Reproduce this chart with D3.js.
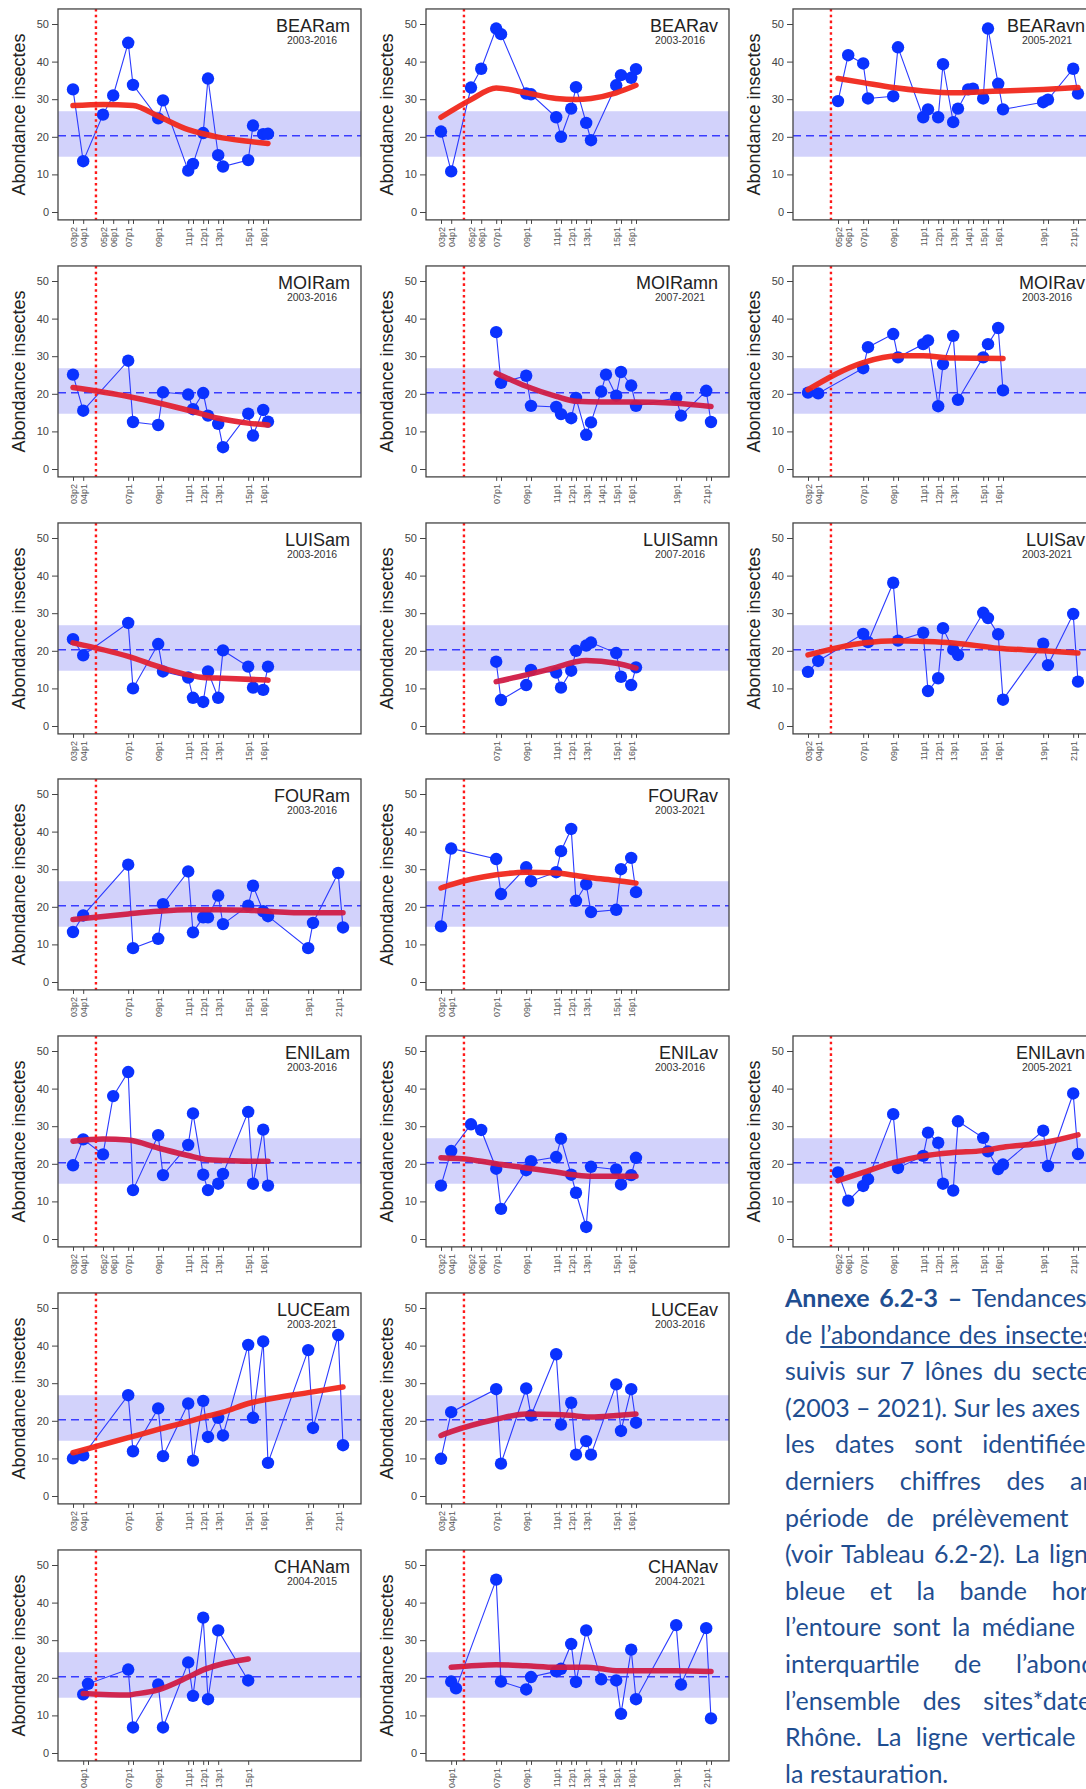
<!DOCTYPE html>
<html><head><meta charset="utf-8">
<script src="https://cdn.jsdelivr.net/npm/d3@7"></script>
<style>
html,body{margin:0;padding:0;background:#fff;overflow:hidden;width:1086px;height:1789px;}
svg{position:absolute;left:0;top:0;}
#caption{position:absolute;left:785px;top:1279px;font-family:Lato,"Open Sans",sans-serif;font-size:25px;line-height:36.6px;color:#1f4e91;}
#caption .ln{white-space:nowrap;height:36.6px;}
</style></head><body>
<svg id="chart" width="1086" height="1789"></svg>
<div id="caption"></div>
<script>
// ---------------- DATA ----------------
const panelNames = ["BEARam","BEARav","BEARavn","MOIRam","MOIRamn","MOIRav","LUISam","LUISamn","LUISav","FOURam","FOURav","ENILam","ENILav","ENILavn","LUCEam","LUCEav","CHANam","CHANav"];
const panelPeriods = ["2003-2016","2003-2016","2005-2021","2003-2016","2007-2021","2003-2016","2003-2016","2007-2016","2003-2021","2003-2016","2003-2021","2003-2016","2003-2016","2005-2021","2003-2021","2003-2016","2004-2015","2004-2021"];
const medianAbund = 20.3;
const iqrAbund = [14.7, 26.8];
const restorationYear = 2005.15;
const yTicks = [0,10,20,30,40,50];
const yTitle = "Abondance insectes";

const BEARam_dates = ["03p2","04p1","05p2","06p1","07p1","07p2","09p1","09p2","11p1","11p2","12p1","12p2","13p1","13p2","15p1","15p2","16p1","16p2"];
const BEARam_abund = [32.6,13.5,25.9,31.0,45.0,33.8,24.9,29.7,11.0,12.8,21.0,35.5,15.1,12.1,13.8,23.0,20.7,20.8];
const BEARam_trendDates = ["03p2","05p2","07p2","09p1","11p1","12p1","13p1","15p1","16p2"];
const BEARam_trendVals = [28.3,28.6,28.3,25.5,21.9,20.8,19.9,18.8,18.2];

const BEARav_dates = ["03p2","04p1","05p2","06p1","07p1","07p2","09p1","09p2","11p1","11p2","12p1","12p2","13p1","13p2","15p1","15p2","16p1","16p2"];
const BEARav_abund = [21.4,10.8,33.1,38.1,48.8,47.3,31.5,31.3,25.2,20.0,27.5,33.2,23.7,19.1,33.7,36.4,35.7,38.0];
const BEARav_trendDates = ["03p2","05p2","07p1","09p1","11p1","12p2","13p2","15p1","16p2"];
const BEARav_trendVals = [25.2,29.9,33.0,31.7,30.2,29.9,30.2,31.7,33.7];

const BEARavn_dates = ["05p2","06p1","07p1","07p2","09p1","09p2","11p1","11p2","12p1","12p2","13p1","13p2","14p1","14p2","15p1","15p2","16p1","16p2","19p1","19p2","21p1","21p2"];
const BEARavn_abund = [29.5,41.7,39.5,30.2,30.8,43.8,25.2,27.3,25.2,39.3,23.9,27.5,32.6,32.8,30.2,48.8,34.1,27.3,29.2,29.9,38.1,31.5];
const BEARavn_trendDates = ["05p2","07p1","09p1","11p1","13p1","15p1","16p2","19p1","21p2"];
const BEARavn_trendVals = [35.5,34.4,33.1,32.2,31.7,32.0,32.2,32.6,33.1];

const MOIRam_dates = ["03p2","04p1","07p1","07p2","09p1","09p2","11p1","11p2","12p1","12p2","13p1","13p2","15p1","15p2","16p1","16p2"];
const MOIRam_abund = [25.1,15.5,28.8,12.5,11.7,20.4,19.8,15.9,20.2,14.2,12.0,5.8,14.7,8.9,15.7,12.6];
const MOIRam_trendDates = ["03p2","07p1","09p2","11p2","13p1","15p1","16p2"];
const MOIRam_trendVals = [21.7,19.3,17.3,15.3,13.5,12.2,11.7];

const MOIRamn_dates = ["07p1","07p2","09p1","09p2","11p1","11p2","12p1","12p2","13p1","13p2","14p1","14p2","15p1","15p2","16p1","16p2","19p1","19p2","21p1","21p2"];
const MOIRamn_abund = [36.4,22.9,24.8,16.8,16.5,14.6,13.5,18.9,9.1,12.4,20.6,25.1,19.5,25.8,22.2,16.8,18.9,14.2,20.8,12.5];
const MOIRamn_trendDates = ["07p1","09p1","11p1","12p2","14p1","16p1","19p1","21p2"];
const MOIRamn_trendVals = [25.5,22.0,19.3,18.0,17.8,17.8,17.5,16.6];

const MOIRav_dates = ["03p2","04p1","07p1","07p2","09p1","09p2","11p1","11p2","12p1","12p2","13p1","13p2","15p1","15p2","16p1","16p2"];
const MOIRav_abund = [20.3,20.1,26.8,32.4,35.9,29.7,33.2,34.2,16.7,27.9,35.4,18.4,29.7,33.2,37.5,20.9];
const MOIRav_trendDates = ["03p2","07p1","09p2","11p1","13p1","16p2"];
const MOIRav_trendVals = [21.1,28.3,30.1,30.1,29.5,29.4];

const LUISam_dates = ["03p2","04p1","07p1","07p2","09p1","09p2","11p1","11p2","12p1","12p2","13p1","13p2","15p1","15p2","16p1","16p2"];
const LUISam_abund = [23.1,18.8,27.4,10.0,21.8,14.5,12.9,7.5,6.4,14.5,7.5,20.1,15.8,10.2,9.6,15.8];
const LUISam_trendDates = ["03p2","07p1","09p2","11p1","12p1","13p2","16p2"];
const LUISam_trendVals = [22.1,18.5,15.4,13.6,12.9,12.7,12.2];

const LUISamn_dates = ["07p1","07p2","09p1","09p2","11p1","11p2","12p1","12p2","13p1","13p2","15p1","15p2","16p1","16p2"];
const LUISamn_abund = [17.1,6.9,10.9,14.9,14.2,10.2,14.7,20.0,21.4,22.2,19.4,13.1,10.9,15.6];
const LUISamn_trendDates = ["07p1","09p1","11p1","12p2","13p1","15p1","16p2"];
const LUISamn_trendVals = [11.8,13.6,15.6,17.1,17.4,16.7,15.4];

const LUISav_dates = ["03p2","04p1","07p1","07p2","09p1","09p2","11p1","11p2","12p1","12p2","13p1","13p2","15p1","15p2","16p1","16p2","19p1","19p2","21p1","21p2"];
const LUISav_abund = [14.4,17.3,24.5,22.3,38.1,22.7,24.8,9.3,12.7,26.0,20.3,18.9,30.1,28.7,24.4,7.0,21.9,16.2,29.8,11.8];
const LUISav_trendDates = ["03p2","07p1","09p2","11p1","13p1","16p1","19p1","21p2"];
const LUISav_trendVals = [18.9,22.1,22.7,22.5,22.1,20.7,20.0,19.4];

const FOURam_dates = ["03p2","04p1","07p1","07p2","09p1","09p2","11p1","11p2","12p1","12p2","13p1","13p2","15p1","15p2","16p1","16p2","19p1","19p2","21p1","21p2"];
const FOURam_abund = [13.3,17.7,31.2,9.0,11.5,20.7,29.4,13.2,17.2,17.2,23.0,15.4,20.3,25.6,18.8,17.5,9.0,15.7,29.0,14.5];
const FOURam_trendDates = ["03p2","07p1","09p1","11p1","13p1","15p1","16p2","19p1","21p2"];
const FOURam_trendVals = [16.6,18.1,18.8,19.2,19.2,19.1,18.8,18.4,18.4];

const FOURav_dates = ["03p2","04p1","07p1","07p2","09p1","09p2","11p1","11p2","12p1","12p2","13p1","13p2","15p1","15p2","16p1","16p2"];
const FOURav_abund = [14.8,35.5,32.7,23.4,30.5,26.8,29.2,34.8,40.7,21.6,26.0,18.6,19.2,30.0,33.0,23.9];
const FOURav_trendDates = ["03p2","04p1","07p1","09p1","11p1","12p2","13p2","15p1","16p2"];
const FOURav_trendVals = [25.0,25.9,28.5,29.2,29.0,28.3,27.7,27.0,26.3];

const ENILam_dates = ["03p2","04p1","05p2","06p1","07p1","07p2","09p1","09p2","11p1","11p2","12p1","12p2","13p1","13p2","15p1","15p2","16p1","16p2"];
const ENILam_abund = [19.6,26.5,22.5,38.0,44.4,13.0,27.6,17.0,25.0,33.4,17.1,13.0,14.7,17.3,33.8,14.7,29.1,14.2];
const ENILam_trendDates = ["03p2","05p2","07p1","09p1","11p1","12p2","13p2","15p1","16p2"];
const ENILam_trendVals = [26.0,26.6,26.3,24.2,22.2,21.1,20.9,20.7,20.7];

const ENILav_dates = ["03p2","04p1","05p2","06p1","07p1","07p2","09p1","09p2","11p1","11p2","12p1","12p2","13p1","13p2","15p1","15p2","16p1","16p2"];
const ENILav_abund = [14.2,23.4,30.5,29.0,18.7,8.0,18.3,20.7,21.8,26.7,17.1,12.3,3.2,19.2,18.5,14.5,17.0,21.6];
const ENILav_trendDates = ["03p2","05p2","07p1","09p1","11p1","12p2","13p2","16p2"];
const ENILav_trendVals = [21.6,21.1,20.0,18.9,17.8,17.0,16.7,16.7];

const ENILavn_dates = ["05p2","06p1","07p1","07p2","09p1","09p2","11p1","11p2","12p1","12p2","13p1","13p2","15p1","15p2","16p1","16p2","19p1","19p2","21p1","21p2"];
const ENILavn_abund = [17.7,10.2,14.1,15.9,33.2,18.9,22.1,28.3,25.6,14.7,12.9,31.3,26.9,23.3,18.6,19.8,28.8,19.4,38.7,22.6];
const ENILavn_trendDates = ["05p2","07p1","09p1","11p1","13p1","15p1","16p2","19p1","21p2"];
const ENILavn_trendVals = [15.5,17.7,20.3,22.1,23.0,23.5,24.4,25.6,27.7];

const LUCEam_dates = ["03p2","04p1","07p1","07p2","09p1","09p2","11p1","11p2","12p1","12p2","13p1","13p2","15p1","15p2","16p1","16p2","19p1","19p2","21p1","21p2"];
const LUCEam_abund = [10.0,10.8,26.8,11.9,23.3,10.6,24.6,9.4,25.3,15.7,20.8,16.1,40.2,20.8,41.1,8.8,38.8,18.1,42.8,13.5];
const LUCEam_trendDates = ["03p2","07p1","09p1","11p1","12p2","13p2","15p1","16p1","19p1","21p2"];
const LUCEam_trendVals = [11.5,15.5,17.7,19.8,21.3,22.3,24.6,25.5,27.5,29.0];

const LUCEav_dates = ["03p2","04p1","07p1","07p2","09p1","09p2","11p1","11p2","12p1","12p2","13p1","13p2","15p1","15p2","16p1","16p2"];
const LUCEav_abund = [9.9,22.3,28.4,8.6,28.6,21.4,37.7,19.0,24.8,11.0,14.6,11.0,29.7,17.3,28.4,19.5];
const LUCEav_trendDates = ["03p2","04p1","07p1","09p1","11p1","12p2","13p2","15p1","16p2"];
const LUCEav_trendVals = [16.1,17.1,20.4,21.8,21.7,21.3,21.0,21.4,21.8];

const CHANam_dates = ["04p1","04p2","07p1","07p2","09p1","09p2","11p1","11p2","12p1","12p2","13p1","15p1"];
const CHANam_abund = [15.6,18.4,22.2,6.8,18.2,6.8,24.1,15.2,36.0,14.3,32.6,19.3];
const CHANam_trendDates = ["04p1","07p1","07p2","09p1","11p1","12p1","13p1","15p1"];
const CHANam_trendVals = [15.8,15.4,15.6,16.8,20.2,22.1,23.4,25.0];

const CHANav_dates = ["04p1","04p2","07p1","07p2","09p1","09p2","11p1","11p2","12p1","12p2","13p1","14p1","15p1","15p2","16p1","16p2","19p1","19p2","21p1","21p2"];
const CHANav_abund = [19.0,17.2,46.1,19.0,16.9,20.2,21.7,22.4,29.0,18.9,32.6,19.6,19.3,10.4,27.5,14.3,34.0,18.2,33.2,9.2];
const CHANav_trendDates = ["04p1","07p1","09p1","11p1","13p1","14p1","15p1","16p2","19p1","21p2"];
const CHANav_trendVals = [22.8,23.5,23.2,22.8,22.8,22.4,21.9,21.9,21.9,21.7];

// caption text (the target word of each line is marked with a span.tgt)
const captionLines = [
  "<b>Annexe 6.2-3 –</b> <span class='tgt'>Tendances</span> temporelles",
  "de <u>l’abondance des <span class='tgt'>insectes</span></u> aquatiques",
  "suivis sur 7 lônes du <span class='tgt'>secteur</span> de Pierre-Bénite",
  "(2003 – 2021). Sur les <span class='tgt'>axes</span> des x,",
  "les dates sont <span class='tgt'>identifiées</span> par les deux",
  "derniers chiffres des <span class='tgt'>années</span> et la",
  "période de <span class='tgt'>prélèvement</span> (p1 ou p2)",
  "(voir Tableau 6.2-2). La <span class='tgt'>ligne</span> pointillée",
  "bleue et la bande <span class='tgt'>horizontale</span> qui",
  "l’entoure sont la <span class='tgt'>médiane</span> et l’intervalle",
  "interquartile de <span class='tgt'>l’abondance</span> sur",
  "l’ensemble des <span class='tgt'>sites*dates</span> du Haut-",
  "Rhône. La ligne <span class='tgt'>verticale</span> représente",
  "la restauration."
];

// table built from the arrays above
const panelData = [
  [BEARam_dates,BEARam_abund,BEARam_trendDates,BEARam_trendVals],
  [BEARav_dates,BEARav_abund,BEARav_trendDates,BEARav_trendVals],
  [BEARavn_dates,BEARavn_abund,BEARavn_trendDates,BEARavn_trendVals],
  [MOIRam_dates,MOIRam_abund,MOIRam_trendDates,MOIRam_trendVals],
  [MOIRamn_dates,MOIRamn_abund,MOIRamn_trendDates,MOIRamn_trendVals],
  [MOIRav_dates,MOIRav_abund,MOIRav_trendDates,MOIRav_trendVals],
  [LUISam_dates,LUISam_abund,LUISam_trendDates,LUISam_trendVals],
  [LUISamn_dates,LUISamn_abund,LUISamn_trendDates,LUISamn_trendVals],
  [LUISav_dates,LUISav_abund,LUISav_trendDates,LUISav_trendVals],
  [FOURam_dates,FOURam_abund,FOURam_trendDates,FOURam_trendVals],
  [FOURav_dates,FOURav_abund,FOURav_trendDates,FOURav_trendVals],
  [ENILam_dates,ENILam_abund,ENILam_trendDates,ENILam_trendVals],
  [ENILav_dates,ENILav_abund,ENILav_trendDates,ENILav_trendVals],
  [ENILavn_dates,ENILavn_abund,ENILavn_trendDates,ENILavn_trendVals],
  [LUCEam_dates,LUCEam_abund,LUCEam_trendDates,LUCEam_trendVals],
  [LUCEav_dates,LUCEav_abund,LUCEav_trendDates,LUCEav_trendVals],
  [CHANam_dates,CHANam_abund,CHANam_trendDates,CHANam_trendVals],
  [CHANav_dates,CHANav_abund,CHANav_trendDates,CHANav_trendVals]
];

// ---------------- LAYOUT / STYLE ----------------
const cells = [[0,0],[0,1],[0,2],[1,0],[1,1],[1,2],[2,0],[2,1],[2,2],[3,0],[3,1],[4,0],[4,1],[4,2],[5,0],[5,1],[6,0],[6,1]];
const colLeft = [58, 426, 793];
const frameW = 303;
const rowZero = [212, 469, 726, 982, 1239, 1496, 1753];
const pxPerUnit = 3.76;
const xDomain = [2002.62, 2022.82];
const RED = "#f0281c", CRIMSON = "#d01c46", MIX = "#e22233";
const trendColors = [RED,RED,RED, MIX,CRIMSON,RED, MIX,CRIMSON,RED, CRIMSON,RED, CRIMSON,CRIMSON,MIX, RED,CRIMSON, CRIMSON,CRIMSON];
const FONT = "'Liberation Sans', Arial, Helvetica, sans-serif";
// x-position (px) where the marked word of each caption line starts (text justification)
const captionWordX = [971.7, 1005, 1031.7, 1031.7, 982.3, 1070, 931.7, 1049, 1051.7, 981.7, 1016, 983.3, 981.7, null];

const toTime = c => 2000 + (+c.slice(0,2)) + (c.slice(3) === "1" ? 0.3 : 0.62);

const svg = d3.select("#chart");

panelNames.forEach((name, i) => {
  const [r, c] = cells[i];
  const left = colLeft[c], zero = rowZero[r];
  const [dates, abund, tDates, tVals] = panelData[i];
  const x = d3.scaleLinear().domain(xDomain).range([left, left + frameW]);
  const y = d3.scaleLinear().domain([0, 50]).range([zero, zero - 50 * pxPerUnit]);
  const top = y(54), bottom = y(-2.1);
  const g = svg.append("g");
  const clipId = "clip" + i;
  g.append("clipPath").attr("id", clipId).append("rect")
    .attr("x", left).attr("y", top).attr("width", frameW).attr("height", bottom - top);
  const inner = g.append("g").attr("clip-path", `url(#${clipId})`);

  inner.append("rect").attr("x", left).attr("width", frameW)
    .attr("y", y(iqrAbund[1])).attr("height", y(iqrAbund[0]) - y(iqrAbund[1]))
    .attr("fill", "#d2d2fb");
  inner.append("line").attr("x1", left).attr("x2", left + frameW)
    .attr("y1", y(medianAbund)).attr("y2", y(medianAbund))
    .attr("stroke", "#3a3cff").attr("stroke-width", 1.5).attr("stroke-dasharray", "8,5");

  const pts = dates.map((d, k) => ({t: toTime(d), v: abund[k]}));
  inner.append("path").datum(pts)
    .attr("d", d3.line().x(d => x(d.t)).y(d => y(d.v)))
    .attr("fill", "none").attr("stroke", "#2b3bff").attr("stroke-width", 1.1);
  inner.selectAll("circle.pt").data(pts).join("circle").attr("class", "pt")
    .attr("cx", d => x(d.t)).attr("cy", d => y(d.v)).attr("r", 6.2)
    .attr("fill", "#0a32ff");

  const tr = tDates.map((d, k) => ({t: toTime(d), v: tVals[k]}));
  inner.append("path").datum(tr)
    .attr("d", d3.line().curve(d3.curveMonotoneX).x(d => x(d.t)).y(d => y(d.v)))
    .attr("fill", "none").attr("stroke", trendColors[i]).attr("stroke-width", 5.5)
    .attr("stroke-linecap", "round").attr("stroke-opacity", 0.95);

  inner.append("line").attr("x1", x(restorationYear)).attr("x2", x(restorationYear))
    .attr("y1", top).attr("y2", bottom)
    .attr("stroke", "#ff1a1a").attr("stroke-width", 2.4).attr("stroke-dasharray", "2.6,3.2");

  g.append("rect").attr("x", left).attr("y", top).attr("width", frameW).attr("height", bottom - top)
    .attr("fill", "none").attr("stroke", "#444").attr("stroke-width", 1.3);

  const ya = g.append("g").attr("transform", `translate(${left},0)`)
    .call(d3.axisLeft(y).tickValues(yTicks).tickSize(6).tickPadding(3));
  ya.select(".domain").remove();
  ya.selectAll("line").attr("stroke", "#444");
  ya.selectAll("text").attr("fill", "#444").style("font-family", FONT).style("font-size", "11px");

  const times = dates.map(toTime);
  const firstOfYear = new Set();
  const seen = new Set();
  dates.forEach(d => { const yr = d.slice(0,2); if (!seen.has(yr)) { seen.add(yr); firstOfYear.add(d); } });
  const xa = g.append("g").attr("transform", `translate(0,${bottom})`)
    .call(d3.axisBottom(x).tickValues(times).tickSize(4)
      .tickFormat((t, k) => firstOfYear.has(dates[k]) ? dates[k] : ""));
  xa.select(".domain").remove();
  xa.selectAll("line").attr("stroke", "#444");
  xa.selectAll("text").attr("fill", "#555").style("font-family", FONT).style("font-size", "9px")
    .attr("transform", "rotate(-90)").attr("text-anchor", "end")
    .attr("x", -7).attr("y", 0).attr("dy", "0.35em");

  g.append("text").attr("transform", `translate(${left - 33},${(top + bottom) / 2}) rotate(-90)`)
    .attr("text-anchor", "middle").attr("fill", "#222")
    .style("font-family", FONT).style("font-size", "18px").text(yTitle);

  g.append("text").attr("x", left + frameW - 11).attr("y", top + 23)
    .attr("text-anchor", "end").attr("fill", "#222")
    .style("font-family", FONT).style("font-size", "18px").text(name);
  g.append("text").attr("x", left + frameW - 49).attr("y", top + 35)
    .attr("text-anchor", "middle").attr("fill", "#333")
    .style("font-family", FONT).style("font-size", "10.5px").text(panelPeriods[i]);
});

// caption, word-spaced so that the marked word starts where it does in the source
const lines = d3.select("#caption").selectAll("div.ln").data(captionLines).join("div")
  .attr("class", "ln").html(d => d);
lines.each(function(d, k) {
  const target = captionWordX[k];
  if (target == null) return;
  const tgt = this.querySelector(".tgt");
  const full = this.textContent;
  const before = full.slice(0, full.indexOf(tgt.textContent));
  const nSpaces = (before.match(/ /g) || []).length;
  const natural = tgt.getBoundingClientRect().left;
  const extra = nSpaces ? (target - natural) / nSpaces : 0;
  this.style.wordSpacing = extra.toFixed(2) + "px";
});
</script>
</body></html>
